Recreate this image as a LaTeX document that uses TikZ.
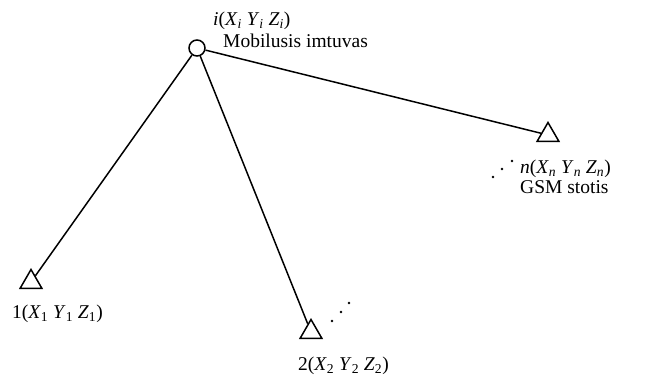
\documentclass[tikz,border=0pt]{standalone}
\usepackage{fontspec}
\setmainfont{Liberation Serif}
\usetikzlibrary{shapes.geometric}
\newcommand{\vi}[1]{\textit{#1}}
\newcommand{\sbi}[1]{\textsubscript{\textit{#1}}}
\newcommand{\sbn}[1]{\textsubscript{#1}}
\begin{document}
\begin{tikzpicture}[x=1pt,y=-1pt,
  lbl/.style={inner sep=0pt,anchor=base west,font=\fontsize{19.5}{23}\selectfont},
  station/.style={draw,line width=1.5pt,regular polygon,regular polygon sides=3,inner sep=0pt,minimum size=25pt},
  recv/.style={draw,line width=1.5pt,circle,inner sep=0pt,minimum size=16pt},
  link/.style={line width=1.5pt},
  dotmark/.style={fill,circle,inner sep=0pt,minimum size=2.8pt}]
\useasboundingbox (0,0) rectangle (645,383);
\node[recv] (c) at (197,48) {};
\node[station] (tn) at (548,135) {};
\node[station] (t1) at (31,282) {};
\node[station] (t2) at (311,332) {};
\draw[link] (c) -- (tn);
\draw[link] (c) -- (t1);
\draw[link] (c) -- (t2);
\node[lbl] (li) at (213,25) {\vi{i}(\vi{X}\sbi{i} \vi{Y}\sbi{i} \vi{Z}\sbi{i})};
\node[lbl] (lm) at (223,47) {Mobilusis imtuvas};
\node[lbl] (ln) at (520,173) {\vi{n}(\vi{X}\sbi{n} \vi{Y}\sbi{n} \vi{Z}\sbi{n})};
\node[lbl] (lg) at (520,193) {GSM stotis};
\node[lbl] (l1) at (12,318) {1(\vi{X}\sbn{1} \vi{Y}\sbn{1} \vi{Z}\sbn{1})};
\node[lbl] (l2) at (298,370) {2(\vi{X}\sbn{2} \vi{Y}\sbn{2} \vi{Z}\sbn{2})};
\node[dotmark] (d1) at (493,177) {};
\node[dotmark] (d2) at (502,169) {};
\node[dotmark] (d3) at (512,161) {};
\node[dotmark] (e1) at (332,321) {};
\node[dotmark] (e2) at (341,312) {};
\node[dotmark] (e3) at (349,303) {};
\end{tikzpicture}
\end{document}
